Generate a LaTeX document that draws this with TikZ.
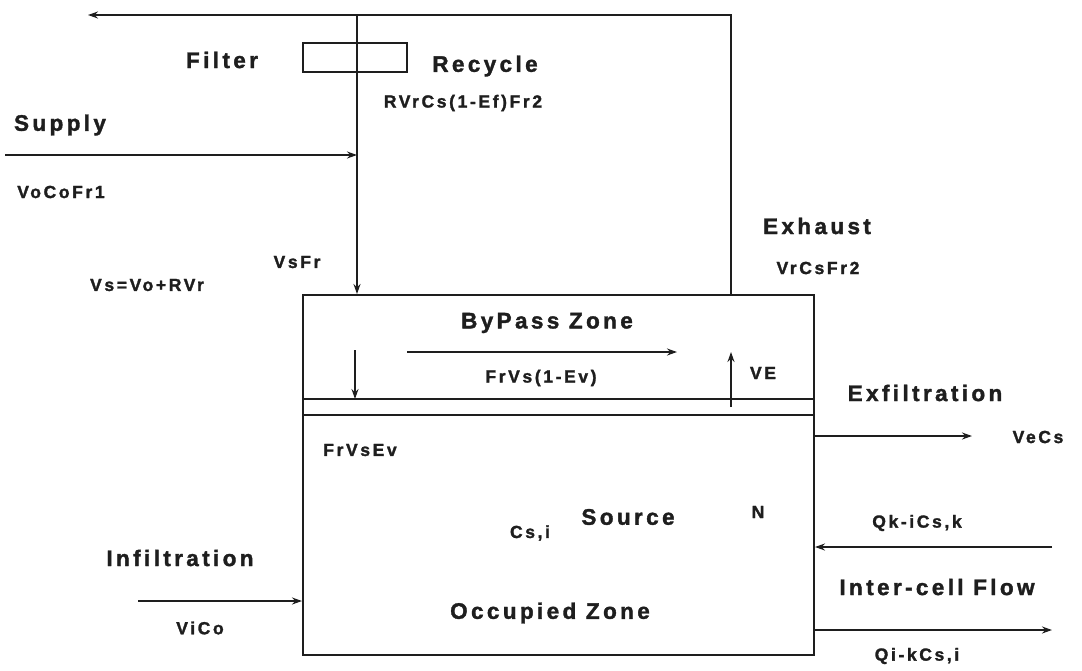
\documentclass[tikz,border=0pt]{standalone}
\usepackage{fontspec}
\setmainfont{Liberation Sans}[LetterSpace=15, BoldFeatures={FakeBold=1.6}]
\usetikzlibrary{arrows.meta, positioning, calc}
\definecolor{ink}{HTML}{1E1E1E}

\begin{document}
\begin{tikzpicture}[
    x=1pt, y=-1pt,
    >={Stealth[length=10pt, width=7pt]},
    zone/.style={
        rectangle, draw=ink, line width=2pt,
        minimum width=511pt, minimum height=360pt, inner sep=0pt,
    },
    filterbox/.style={
        rectangle, draw=ink, line width=2pt,
        minimum width=104pt, minimum height=29pt, inner sep=0pt,
    },
    heading/.style={font=\fontsize{22.5}{24}\selectfont\bfseries, text=ink, inner sep=0pt},
    qty/.style={font=\fontsize{17.5}{19}\selectfont\bfseries, text=ink, inner sep=0pt},
    flow/.style={->, line width=2.8pt, ink},
    divider/.style={line width=1.6pt, ink},
]
\useasboundingbox (0,0) rectangle (1082,670);

% =====================================================================
% ROOM — bypass zone over occupied zone
% =====================================================================

\node[zone] (room) at (558.5,475) {};

\coordinate (sepT) at (303,399);
\coordinate (sepB) at (303,415);
\draw[divider] (sepT) -- (sepT -| room.east);
\draw[divider] (sepB) -- (sepB -| room.east);

\node[heading] (bypass)   at (547,323) {ByPass Zone};
\node[heading] (source)   at (628,517) {Source};
\node[heading] (occupied) at (550,613) {Occupied Zone};
\node[qty]     (bypassq)  at (541,378) {FrVs(1-Ev)};
\node[qty]     (ve)       at (763,373) {VE};
\node[qty]     (mixq)     at (360,450) {FrVsEv};
\node[qty]     (csi)      at (530,533) {Cs,i};
\node[qty]     (strength) at (758,512) {N};

% arrows inside the room
\coordinate (dnA) at (355,350);
\coordinate (bpA) at (407,352);
\coordinate (bpB) at (677,352);
\coordinate (upA) at (731,407);
\draw[flow] (dnA) -- (dnA |- sepT);
\draw[flow] (bpA) -- (bpB);
\draw[flow] (upA) -- (upA |- 0,352);

% =====================================================================
% SUPPLY / RECYCLE / EXHAUST ducts
% =====================================================================

\coordinate (topL) at (88,15);
\coordinate (topS) at (357,15);
\coordinate (topE) at (731,15);
\coordinate (supplyin) at (5,155);

\node[filterbox] (filter) at (355,57.5) {};

\draw[flow] (room.north -| topE) -- (topE) -- (topL);
\draw[flow] (topS) -- (topS |- room.north);
\draw[flow] (supplyin) -- (supplyin -| topS);

\node[heading] (filterl)  at (222,60)  {Filter};
\node[heading] (recycle)  at (485,66)  {Recycle};
\node[qty]     (recycleq) at (463,103) {RVrCs(1-Ef)Fr2};
\node[heading] (supply)   at (60,125)  {Supply};
\node[qty]     (supplyq)  at (61,192)  {VoCoFr1};
\node[qty]     (vsfr)     at (297,262) {VsFr};
\node[qty]     (balance)  at (147,285) {Vs=Vo+RVr};
\node[heading] (exhaust)  at (817,226) {Exhaust};
\node[qty]     (exhaustq) at (818,268) {VrCsFr2};

% =====================================================================
% LEAKAGE — infiltration, exfiltration, inter-cell flow
% =====================================================================

\coordinate (infA)  at (138,601);
\coordinate (exfB)  at (972,436);
\coordinate (kiA)   at (1052,547);
\coordinate (ikB)   at (1052,630);

\draw[flow] (infA) -- (infA -| room.west);
\draw[flow] (room.east |- exfB) -- (exfB);
\draw[flow] (kiA) -- (kiA -| room.east);
\draw[flow] (room.east |- ikB) -- (ikB);

\node[heading] (infil)   at (180,558)  {Infiltration};
\node[qty]     (infilq)  at (200,628)  {ViCo};
\node[heading] (exfil)   at (925,393)  {Exfiltration};
\node[qty]     (exfilq)  at (1038,437) {VeCs};
\node[qty]     (kiq)     at (917,523)  {Qk-iCs,k};
\node[heading] (inter)   at (937,587)  {Inter-cell Flow};
\node[qty]     (ikq)     at (917,656)  {Qi-kCs,i};

\end{tikzpicture}
\end{document}
